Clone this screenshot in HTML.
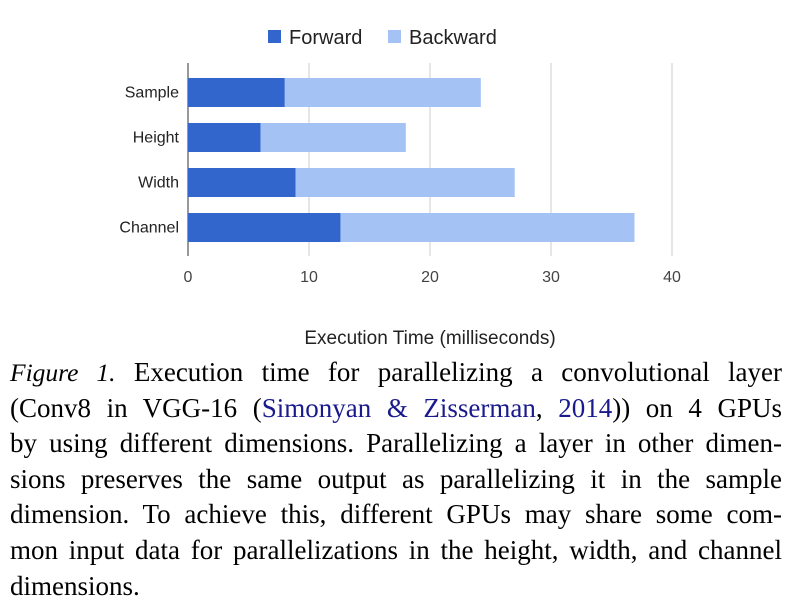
<!DOCTYPE html>
<html><head><meta charset="utf-8"><style>
body{margin:0;width:790px;height:608px;background:#fff;overflow:hidden;position:relative}
#cap{position:absolute;left:10px;top:355px;width:772px;font-family:"Liberation Serif",serif;font-size:27px;line-height:35.6px;color:#000}
#cap div{text-align:justify;text-align-last:justify;white-space:nowrap;height:35.6px}
#cap div.last{text-align-last:left}
#cap a{color:#1a1a8c;text-decoration:none}
#cap i{font-size:25.5px}
</style></head><body>
<svg id="chart" width="790" height="350" style="position:absolute;left:0;top:0" font-family="Liberation Sans, sans-serif"></svg>
<div id="cap">
<div><i>Figure 1.</i> Execution time for parallelizing a convolutional layer</div>
<div>(Conv8 in VGG-16 (<a>Simonyan &amp; Zisserman</a>, <a>2014</a>)) on 4 GPUs</div>
<div>by using different dimensions. Parallelizing a layer in other dimen-</div>
<div>sions preserves the same output as parallelizing it in the sample</div>
<div>dimension. To achieve this, different GPUs may share some com-</div>
<div>mon input data for parallelizations in the height, width, and channel</div>
<div class="last">dimensions.</div>
</div>
<script>
const categories=["Sample","Height","Width","Channel"];
const forward=[8.0,6.0,8.9,12.6];
const backward=[16.2,12.0,18.1,24.3];
const ticks=[0,10,20,30,40];
const svg=document.getElementById('chart');
const NS='http://www.w3.org/2000/svg';
const x=v=>188+v*12.1;
const y=i=>78+i*45;
const bh=29;
function mk(t,a){const e=document.createElementNS(NS,t);for(const k in a)e.setAttribute(k,a[k]);svg.appendChild(e);return e;}
ticks.forEach(t=>{
 const g=mk('line',{x1:x(t),x2:x(t),y1:63,y2:256,stroke:t===0?'#333':'#ccc','stroke-width':1});
 
 
 const l=mk('text',{x:x(t),y:282,'text-anchor':'middle','font-size':16,fill:'#444'});l.textContent=t;
 
 
});
categories.forEach((c,i)=>{
 const f=mk('rect',{x:x(0),y:y(i),width:x(forward[i])-x(0),height:bh,fill:'#3366cc'});
 
 
 const b=mk('rect',{x:x(forward[i]),y:y(i),width:x(forward[i]+backward[i])-x(forward[i]),height:bh,fill:'#a4c2f4'});
 
 
 const l=mk('text',{x:179,y:y(i)+bh/2+5,'text-anchor':'end','font-size':16,fill:'#222'});l.textContent=c;
 
 
});
const lg=[["Forward","#3366cc",268],["Backward","#a4c2f4",388]];
lg.forEach(([n,c,px])=>{
 const r=mk('rect',{x:px,y:30,width:13,height:13,fill:c});
 
 
 const t=mk('text',{x:px+21,y:44,'font-size':20,fill:'#222'});t.textContent=n;
 
 
});
const xt=mk('text',{x:430,y:344,'text-anchor':'middle','font-size':19,fill:'#222'});xt.textContent='Execution Time (milliseconds)';


</script>
</body></html>
